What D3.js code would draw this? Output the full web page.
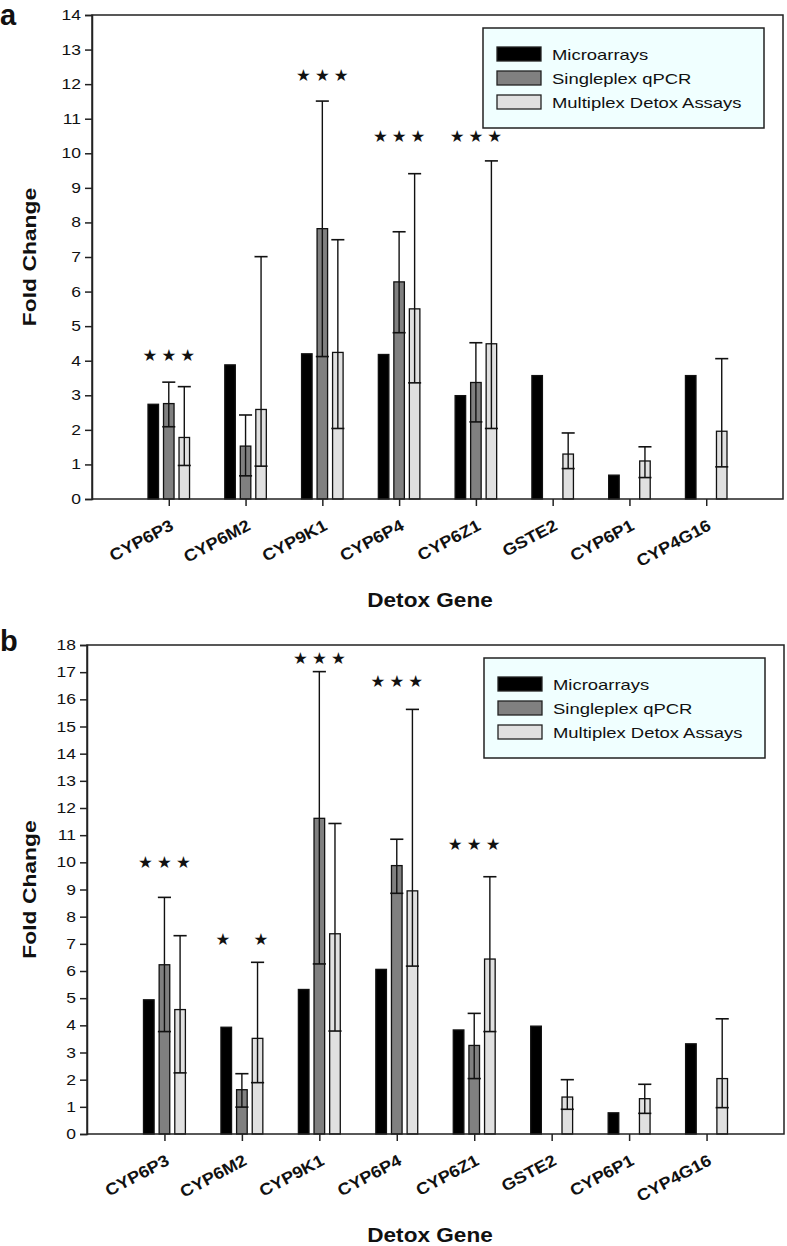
<!DOCTYPE html>
<html><head><meta charset="utf-8">
<script src="https://cdn.jsdelivr.net/npm/d3@7"></script>
<style>body{margin:0;background:#fff}svg{display:block}</style>
</head><body>
<svg id="c" width="787" height="1246"></svg>
<script>
// ---------- DATA ----------
const categories = ["CYP6P3","CYP6M2","CYP9K1","CYP6P4","CYP6Z1","GSTE2","CYP6P1","CYP4G16"];
const seriesNames = ["Microarrays","Singleplex qPCR","Multiplex Detox Assays"];

// panel a
const microA   = [2.74, 3.88, 4.20, 4.18, 2.99, 3.57, 0.69, 3.57];
const singleA  = [2.76, 1.53, 7.82, 6.28, 3.37, null, null, null];
const singleAHi= [3.38, 2.43, 11.51, 7.73, 4.52, null, null, null];
const singleALo= [2.09, 0.67, 4.12, 4.81, 2.23, null, null, null];
const multiA   = [1.78, 2.59, 4.24, 5.50, 4.49, 1.30, 1.10, 1.96];
const multiAHi = [3.25, 7.01, 7.50, 9.41, 9.78, 1.91, 1.51, 4.06];
const multiALo = [0.97, 0.95, 2.04, 3.36, 2.04, 0.88, 0.62, 0.93];
const starsA   = [4.14, null, 12.24, 10.47, 10.47, null, null, null];
const starPatA = ["***", "", "***", "***", "***", "", "", ""];
const yTicksA  = d3.range(0, 15);

// panel b
const microB   = [4.94, 3.93, 5.32, 6.06, 3.83, 3.97, 0.78, 3.32];
const singleB  = [6.23, 1.63, 11.62, 9.88, 3.26, null, null, null];
const singleBHi= [8.71, 2.22, 17.02, 10.85, 4.44, null, null, null];
const singleBLo= [3.77, 0.99, 6.26, 8.86, 2.04, null, null, null];
const multiB   = [4.58, 3.52, 7.37, 8.95, 6.44, 1.36, 1.30, 2.04];
const multiBHi = [7.30, 6.32, 11.43, 15.63, 9.47, 2.00, 1.83, 4.24];
const multiBLo = [2.25, 1.89, 3.79, 6.18, 3.77, 0.91, 0.76, 0.97];
const starsB   = [9.99, 7.14, 17.50, 16.65, 10.64, null, null, null];
const starPatB = ["***", "*.*", "***", "***", "***", "", "", ""];
const yTicksB  = d3.range(0, 19);

// ---------- STYLE ----------
const colors = ["#000000", "#808080", "#e0e0e0"];
const FONT = "'Liberation Sans', Arial, sans-serif";
const svg = d3.select("#c");
svg.append("rect").attr("width",787).attr("height",1246).attr("fill","#fff");

function stretchText(g, x, y, txt, opts) {
  return g.append("text")
    .attr("transform", `translate(${x},${y}) rotate(${opts.rot||0}) scale(${opts.sx||1},1)`)
    .attr("font-family", FONT)
    .attr("font-size", opts.size)
    .attr("font-weight", opts.bold ? "bold" : "normal")
    .attr("text-anchor", opts.anchor || "start")
    .attr("fill", "#111")
    .text(txt);
}

function panel(cfg) {
  const g = svg.append("g");
  const x = d3.scalePoint().domain(categories).range([cfg.x0, cfg.x1]).padding(1);
  const y = d3.scaleLinear().domain([0, cfg.ymax]).range([cfg.y1, cfg.y0]);
  const step = x.step();
  const off = step * 0.202, bw = step * 0.137, cap = step * 0.17;

  const series = [
    {vals: cfg.micro, hi: null, lo: null},
    {vals: cfg.single, hi: cfg.singleHi, lo: cfg.singleLo},
    {vals: cfg.multi, hi: cfg.multiHi, lo: cfg.multiLo}
  ];

  series.forEach((s, si) => {
    const data = categories.map((c, i) => ({c, v: s.vals[i], hi: s.hi ? s.hi[i] : null, lo: s.lo ? s.lo[i] : null}))
      .filter(d => d.v != null);
    g.selectAll(null).data(data).enter().append("rect")
      .attr("x", d => x(d.c) + (si - 1) * off - bw / 2)
      .attr("y", d => y(d.v))
      .attr("width", bw)
      .attr("height", d => y(0) - y(d.v))
      .attr("fill", colors[si])
      .attr("stroke", "#111")
      .attr("stroke-width", 1.3);
    if (s.hi) {
      const eb = data.filter(d => d.hi != null);
      const cx = d => x(d.c) + (si - 1) * off;
      g.selectAll(null).data(eb).enter().append("line")
        .attr("x1", cx).attr("x2", cx)
        .attr("y1", d => y(d.lo)).attr("y2", d => y(d.hi))
        .attr("stroke", "#111").attr("stroke-width", 1.4);
      ["hi","lo"].forEach(k => {
        g.selectAll(null).data(eb).enter().append("line")
          .attr("x1", d => cx(d) - cap / 2).attr("x2", d => cx(d) + cap / 2)
          .attr("y1", d => y(d[k])).attr("y2", d => y(d[k]))
          .attr("stroke", "#111").attr("stroke-width", 1.6);
      });
    }
  });

  // significance stars
  categories.forEach((c, i) => {
    const sv = cfg.stars[i];
    if (sv == null) return;
    const pat = cfg.starPat[i];
    for (let k = 0; k < 3; k++) {
      if (pat[k] !== "*") continue;
      g.append("text")
        .attr("x", x(c) + (k - 1) * step * 0.245)
        .attr("y", y(sv))
        .attr("dy", "0.33em")
        .attr("text-anchor", "middle")
        .attr("font-family", "'DejaVu Sans', sans-serif")
        .attr("font-size", 16.5)
        .attr("fill", "#111")
        .text("\u2605");
    }
  });

  // frame
  g.append("rect").attr("x", cfg.x0).attr("y", cfg.y0)
    .attr("width", cfg.x1 - cfg.x0).attr("height", cfg.y1 - cfg.y0)
    .attr("fill", "none").attr("stroke", "#222").attr("stroke-width", 1.5);

  // y axis
  const ya = g.append("g").attr("transform", `translate(${cfg.x0},0)`)
    .call(d3.axisLeft(y).tickValues(cfg.yTicks).tickSize(7).tickFormat(""));
  ya.select(".domain").attr("stroke", "#222").attr("stroke-width", 1.5);
  ya.selectAll(".tick line").attr("stroke", "#222").attr("stroke-width", 1.5);
  cfg.yTicks.forEach(t => {
    stretchText(g, cfg.x0 - 11, y(t) + 5, String(t), {size: 14, sx: 1.25, anchor: "end"});
  });

  // x axis
  const xa = g.append("g").attr("transform", `translate(0,${cfg.y1})`)
    .call(d3.axisBottom(x).tickSize(7).tickFormat(""));
  xa.select(".domain").remove();
  xa.selectAll(".tick line").attr("stroke", "#222").attr("stroke-width", 1.5);
  categories.forEach(c => {
    stretchText(g, x(c) + 6, cfg.y1 + 30, c, {size: 16.5, sx: 1.1, anchor: "end", bold: true, rot: -28});
  });

  // axis titles
  stretchText(g, 430, cfg.y1 + 108, "Detox Gene", {size: 20, sx: 1.13, anchor: "middle", bold: true});
  g.append("text")
    .attr("transform", `translate(36,${(cfg.y0 + cfg.y1) / 2}) rotate(-90) scale(1.27,1)`)
    .attr("font-family", FONT).attr("font-size", 18).attr("font-weight", "bold")
    .attr("text-anchor", "middle").attr("fill", "#111").text("Fold Change");

  // panel letter
  g.append("text").attr("x", 0).attr("y", cfg.letterY)
    .attr("font-family", FONT).attr("font-size", 29).attr("font-weight", "bold")
    .attr("fill", "#111").text(cfg.letter);

  // legend
  const lx = cfg.x1 - 19 - 281, ly = cfg.y0 + 13;
  const lg = g.append("g").attr("transform", `translate(${lx},${ly})`);
  lg.append("rect").attr("width", 281).attr("height", 100)
    .attr("fill", "#f0ffff").attr("stroke", "#222").attr("stroke-width", 1.5);
  seriesNames.forEach((n, i) => {
    lg.append("rect").attr("x", 14).attr("y", 26 + i * 24 - 7).attr("width", 44).attr("height", 14)
      .attr("fill", colors[i]).attr("stroke", "#222").attr("stroke-width", 1.3);
    stretchText(lg, 69, 26 + i * 24 + 6, n, {size: 15, sx: 1.23});
  });
}

panel({x0: 92, x1: 783, y0: 15, y1: 499, ymax: 14, yTicks: yTicksA,
  micro: microA, single: singleA, singleHi: singleAHi, singleLo: singleALo,
  multi: multiA, multiHi: multiAHi, multiLo: multiALo, stars: starsA, starPat: starPatA,
  letter: "a", letterY: 25});
panel({x0: 87, x1: 784, y0: 645, y1: 1134, ymax: 18, yTicks: yTicksB,
  micro: microB, single: singleB, singleHi: singleBHi, singleLo: singleBLo,
  multi: multiB, multiHi: multiBHi, multiLo: multiBLo, stars: starsB, starPat: starPatB,
  letter: "b", letterY: 651});
</script>
</body></html>
